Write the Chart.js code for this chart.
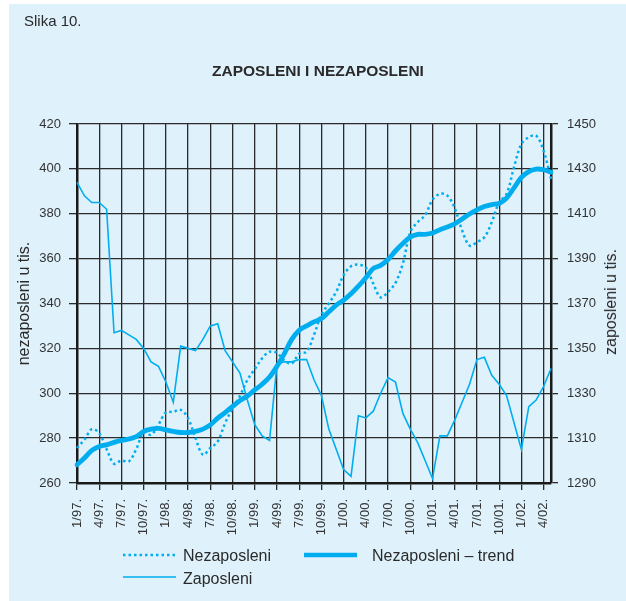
<!DOCTYPE html>
<html>
<head>
<meta charset="utf-8">
<title>Slika 10.</title>
<script src="https://cdn.jsdelivr.net/npm/chart.js@4.4.1/dist/chart.umd.min.js"></script>
<style>
  html, body { margin:0; padding:0; background:#fff; }
  body { width:626px; height:601px; position:relative; overflow:hidden; font-family:"Liberation Sans", Arial, Helvetica, sans-serif; color:#2a2a2a; }
  .bg { position:absolute; left:9px; top:4px; right:0; bottom:0; background:#dff1fb; }
  #chart { position:absolute; left:0; top:0; }
  .txt { position:absolute; white-space:nowrap; }
  .fig { left:24px; top:13px; font-size:15px; line-height:15px; }
  .title { left:0; width:636px; text-align:center; top:63px; font-size:15.5px; line-height:16px; font-weight:bold; }
  .leg { font-size:16px; line-height:16px; }
  .ytitle { font-size:16px; line-height:16px; transform:translate(-50%,-50%) rotate(-90deg); }
  .swatch { position:absolute; }
</style>
</head>
<body>
<div class="bg"></div>
<canvas id="chart" width="626" height="601"></canvas>
<div class="txt fig">Slika 10.</div>
<div class="txt title">ZAPOSLENI I NEZAPOSLENI</div>
<div class="txt ytitle" style="left:611px;top:302px">zaposleni u tis.</div>

<svg class="swatch" style="left:120px;top:550px" width="60" height="10">
  <line x1="3" y1="5" x2="56" y2="5" stroke="#00aeef" stroke-width="2.5" stroke-dasharray="2.5 3"/>
</svg>
<div class="txt leg" style="left:183px;top:548px">Nezaposleni</div>
<svg class="swatch" style="left:300px;top:550px" width="62" height="10">
  <line x1="4" y1="5" x2="57" y2="5" stroke="#00aeef" stroke-width="4.5"/>
</svg>
<div class="txt leg" style="left:372px;top:548px">Nezaposleni – trend</div>
<svg class="swatch" style="left:120px;top:572px" width="60" height="10">
  <line x1="3" y1="5" x2="56" y2="5" stroke="#00aeef" stroke-width="1.6"/>
</svg>
<div class="txt leg" style="left:183px;top:571px">Zaposleni</div>

<script>
const MONTHS = [
  '1/97.','2/97.','3/97.','4/97.','5/97.','6/97.','7/97.','8/97.','9/97.','10/97.','11/97.','12/97.',
  '1/98.','2/98.','3/98.','4/98.','5/98.','6/98.','7/98.','8/98.','9/98.','10/98.','11/98.','12/98.',
  '1/99.','2/99.','3/99.','4/99.','5/99.','6/99.','7/99.','8/99.','9/99.','10/99.','11/99.','12/99.',
  '1/00.','2/00.','3/00.','4/00.','5/00.','6/00.','7/00.','8/00.','9/00.','10/00.','11/00.','12/00.',
  '1/01.','2/01.','3/01.','4/01.','5/01.','6/01.','7/01.','8/01.','9/01.','10/01.','11/01.','12/01.',
  '1/02.','2/02.','3/02.','4/02.','5/02.'
];
const TICK_EVERY = 3;

// nezaposleni, u tisućama (lijeva os)
const nezaposleni = [
  275.6,279.3,284.0,282.2,275.1,268.6,270.0,269.6,275.1,282.5,281.5,286.0,
  291.4,291.7,292.6,288.9,280.0,272.6,275.6,278.5,286.7,293.3,298.8,305.9,
  310.7,315.6,318.5,318.0,314.5,313.3,317.6,318.5,326.0,335.0,340.0,345.2,
  352.6,356.6,357.3,356.0,348.9,342.7,345.2,349.2,357.8,371.9,376.3,379.3,
  386.2,388.9,388.1,382.5,372.5,365.8,367.3,369.5,376.2,385.1,388.8,400.7,
  411.1,414.1,414.8,408.1,395.5
];
const nezaposleniTrend = [
  268.1,271.1,274.5,276.3,277.0,278.1,279.0,279.6,280.7,283.0,284.0,284.3,
  283.7,283.0,282.5,282.5,283.0,284.0,285.9,288.9,291.4,294.1,296.7,298.8,
  301.5,304.0,307.2,312.0,317.7,324.0,328.1,330.0,331.8,333.3,336.3,339.3,
  341.5,344.4,347.7,351.5,355.6,357.0,359.6,363.4,366.7,369.6,370.8,370.8,
  371.4,372.9,374.1,375.5,377.7,379.9,381.7,383.2,384.1,384.6,387.0,391.5,
  396.2,398.8,399.9,399.6,398.5
];
// zaposleni, u tisućama (desna os)
const zaposleni = [
  1424,1418,1415,1415,1412,1357,1358,1356,1354,1350,1344,1342,
  1335,1326,1351,1350,1349,1354,1360,1361,1349,1344,1339,1327,
  1316,1311,1309,1343,1344,1344,1345,1345,1336,1329,1314,1305,
  1296,1293,1320,1319,1322,1330,1337,1335,1321,1314,1308,1300,
  1292,1311,1311,1318,1326,1334,1345,1346,1338,1334,1329,1317,
  1305,1324,1327,1333,1341
];

const LEFT_AXIS = { min:260, max:420, step:20 };
const RIGHT_AXIS = { min:1290, max:1450, step:20 };

const BLUE = '#00aeef';
const GRID = '#2b2b2b';
const TEXT = '#333';

Chart.defaults.font.family = '"Liberation Sans", Arial, Helvetica, sans-serif';
Chart.defaults.color = TEXT;

new Chart(document.getElementById('chart').getContext('2d'), {
  type: 'line',
  data: {
    labels: MONTHS,
    datasets: [
      { label:'Nezaposleni', data:nezaposleni, yAxisID:'y', borderColor:BLUE, borderWidth:2.5,
        borderDash:[2.5,3], tension:0.35, pointRadius:0 },
      { label:'Nezaposleni – trend', data:nezaposleniTrend, yAxisID:'y', borderColor:BLUE, borderWidth:4.8,
        tension:0.35, pointRadius:0, borderJoinStyle:'round', borderCapStyle:'round' },
      { label:'Zaposleni', data:zaposleni, yAxisID:'y1', borderColor:BLUE, borderWidth:1.6,
        tension:0, pointRadius:0 }
    ]
  },
  options: {
    responsive:false, animation:false,
    layout: { padding:{ top:124, left:0, right:0, bottom:0 } },
    plugins: { legend:{ display:false }, tooltip:{ enabled:false } },
    scales: {
      x: {
        grid: { color: c => c.index % TICK_EVERY === 0 ? GRID : 'transparent', lineWidth:1.3, tickLength:7 },
        border: { display:true, color:'#1a1a1a', width:2.5 },
        ticks: { autoSkip:false, minRotation:90, maxRotation:90, padding:9, font:{size:13}, color:TEXT,
          callback: (v, i) => i % TICK_EVERY === 0 ? MONTHS[i] : '' },
        afterFit: s => { s.height = 118; }
      },
      y: {
        position:'left', min:LEFT_AXIS.min, max:LEFT_AXIS.max,
        ticks: { stepSize:LEFT_AXIS.step, padding:8, font:{size:13}, color:TEXT, callback: v => String(v) },
        grid: { color:GRID, lineWidth:1.3, tickLength:8 },
        border: { display:true, color:'#1a1a1a', width:2.5 },
        title: { display:true, text:'nezaposleni u tis.', font:{size:16}, color:'#2a2a2a', padding:{top:15, bottom:0} },
        afterFit: s => { s.width = 77; }
      },
      y1: {
        position:'right', min:RIGHT_AXIS.min, max:RIGHT_AXIS.max,
        ticks: { stepSize:RIGHT_AXIS.step, padding:9, font:{size:13}, color:TEXT, callback: v => String(v) },
        grid: { drawOnChartArea:false, color:GRID, lineWidth:1.3, tickLength:7 },
        border: { display:true, color:'#1a1a1a', width:2.5 },
        afterFit: s => { s.width = 75; }
      }
    }
  }
});
</script>
</body>
</html>
